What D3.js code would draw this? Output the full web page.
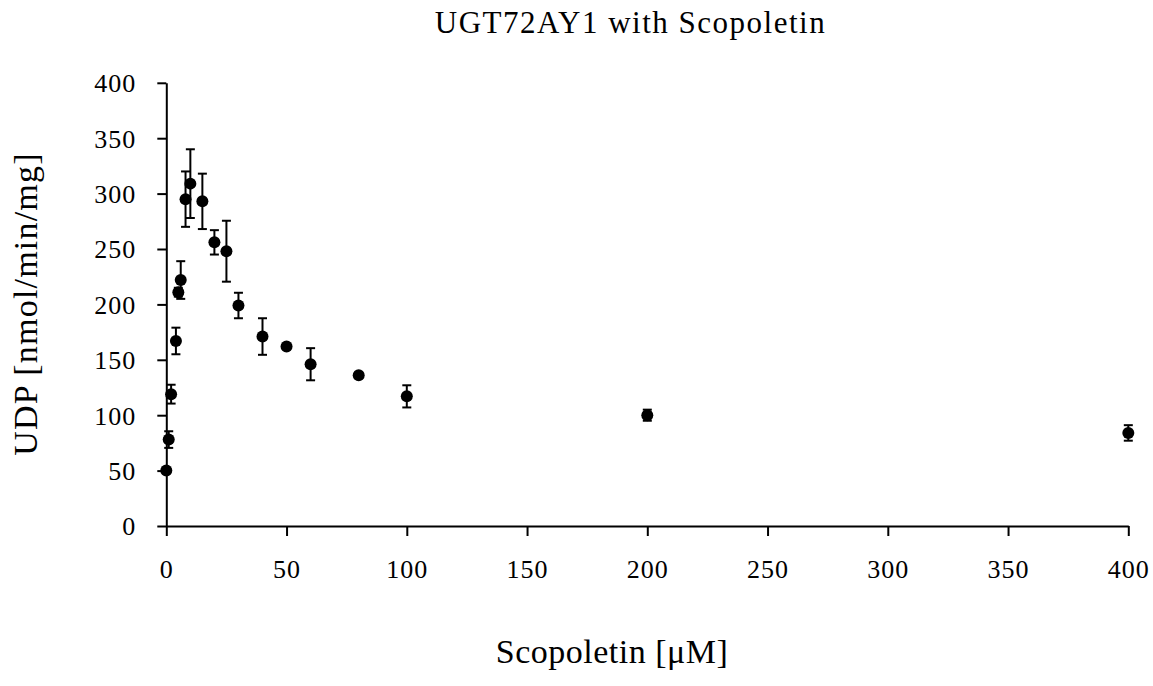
<!DOCTYPE html>
<html>
<head>
<meta charset="utf-8">
<script src="https://cdn.jsdelivr.net/npm/d3@7"></script>
<style>
  html, body { margin: 0; padding: 0; background: #fff; }
  svg { display: block; }
  text { font-family: "Liberation Serif", "Times New Roman", serif; fill: #000; }
</style>
</head>
<body>
<svg id="chart" width="1153" height="686"></svg>
<script>
// Scopoletin concentration (µM)
const concentrations = [0, 1, 2, 4, 5, 6, 8, 10, 15, 20, 25, 30, 40, 50, 60, 80, 100, 200, 400];
// Mean UDP release (nmol/min/mg)
const activity = [50, 78, 119, 167, 211, 222, 295, 309, 293, 256, 248, 199, 171, 162, 146, 136, 117, 100, 84];
// Standard deviation
const deviation = [2, 7.5, 8.5, 12, 4, 17, 25, 31, 25, 11, 27.5, 11.5, 16.5, 2, 14.5, 2, 10, 5, 7];

const xTicks = [0, 50, 100, 150, 200, 250, 300, 350, 400];
const yTicks = [0, 50, 100, 150, 200, 250, 300, 350, 400];

const titleText = "UGT72AY1 with Scopoletin";
const xTitle = "Scopoletin [\u03bcM]";
const yTitle = "UDP [nmol/min/mg]";

const svg = d3.select("#chart");

const x = d3.scaleLinear().domain([0, 400]).range([166.3, 1128.3]);
const y = d3.scaleLinear().domain([0, 400]).range([526, 82.8]);

const points = concentrations.map((c, i) => ({ c, v: activity[i], e: deviation[i] }));

// Axes
const xAxis = svg.append("g")
  .attr("transform", `translate(0,${y(0)})`)
  .call(d3.axisBottom(x).tickValues(xTicks).tickSize(10).tickSizeOuter(0).tickFormat(d3.format("d")));
xAxis.selectAll("text")
  .attr("y", 52).attr("dy", 0)
  .style("font-size", "26px").style("letter-spacing", "1px");

const yAxis = svg.append("g")
  .attr("transform", `translate(${x(0)},0)`)
  .call(d3.axisLeft(y).tickValues(yTicks).tickSize(9).tickSizeOuter(0).tickFormat(d3.format("d")));
yAxis.selectAll("text")
  .attr("x", -30).attr("dy", "0.34em")
  .style("font-size", "26px").style("letter-spacing", "1px");

svg.selectAll(".domain, .tick line").attr("stroke", "#000").attr("stroke-width", 2);
svg.selectAll(".tick text").attr("fill", "#000").attr("font-family", null);

// Error bars
const eb = svg.append("g").attr("stroke", "#000").attr("stroke-width", 2).attr("fill", "none");
points.forEach(p => {
  const cx = x(p.c);
  const y1 = y(p.v + p.e), y2 = y(p.v - p.e);
  eb.append("line").attr("x1", cx).attr("x2", cx).attr("y1", y1).attr("y2", y2);
  eb.append("line").attr("x1", cx - 4.5).attr("x2", cx + 4.5).attr("y1", y1).attr("y2", y1);
  eb.append("line").attr("x1", cx - 4.5).attr("x2", cx + 4.5).attr("y1", y2).attr("y2", y2);
});

// Markers
svg.append("g").selectAll("circle")
  .data(points)
  .join("circle")
  .attr("cx", d => x(d.c))
  .attr("cy", d => y(d.v))
  .attr("r", 6)
  .attr("fill", "#000");

// Titles
svg.append("text")
  .attr("x", 630.5).attr("y", 33)
  .attr("text-anchor", "middle")
  .style("font-size", "31px").style("letter-spacing", "1.5px")
  .text(titleText);

svg.append("text")
  .attr("x", 612).attr("y", 663)
  .attr("text-anchor", "middle")
  .style("font-size", "34px").style("letter-spacing", "0.5px")
  .text(xTitle);

svg.append("text")
  .attr("transform", `translate(37,304) rotate(-90)`)
  .attr("text-anchor", "middle")
  .style("font-size", "34px").style("letter-spacing", "1.2px")
  .text(yTitle);
</script>
</body>
</html>
